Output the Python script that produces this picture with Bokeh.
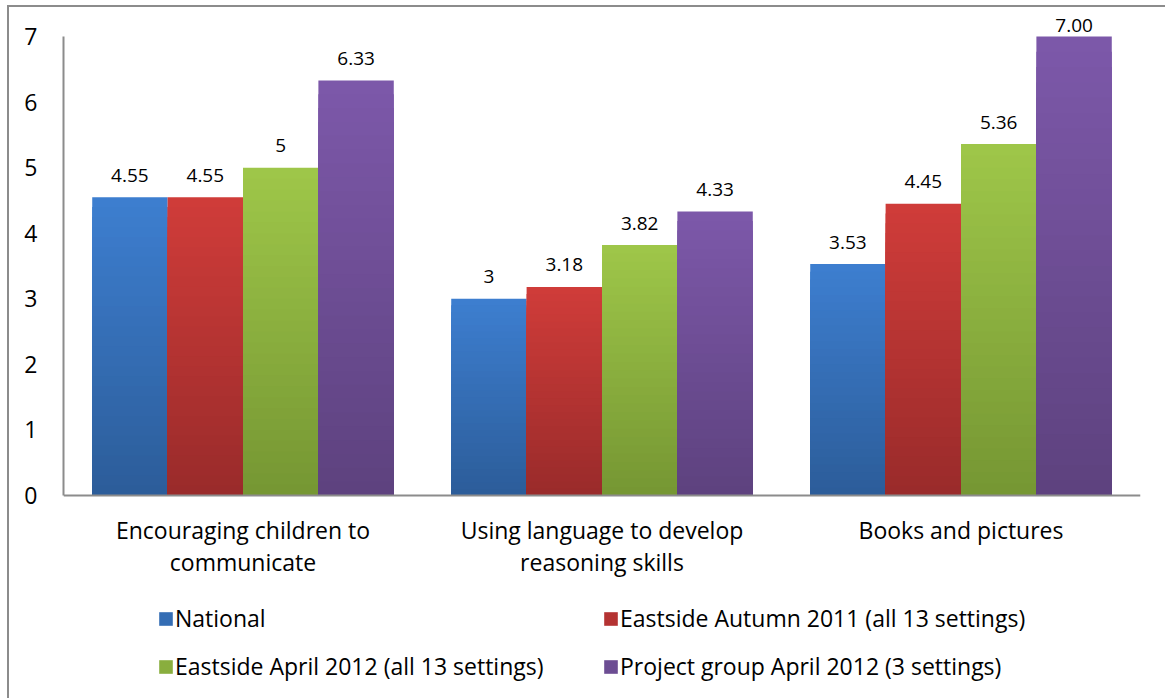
from bokeh.plotting import figure
from bokeh.models import ColumnDataSource, FactorRange, Range1d, Legend, LegendItem, Span
from bokeh.transform import dodge
from bokeh.core.properties import value
from bokeh.embed import file_html
from bokeh.resources import INLINE

# ---- data ----
categories = ["Encouraging children to\ncommunicate",
              "Using language to develop\nreasoning skills",
              "Books and pictures"]
series_names = ["National",
                "Eastside Autumn 2011 (all 13 settings)",
                "Eastside April 2012 (all 13 settings)",
                "Project group April 2012 (3 settings)"]
national = [4.55, 3.00, 3.53]
eastside_autumn_2011 = [4.55, 3.18, 4.45]
eastside_april_2012 = [5.00, 3.82, 5.36]
project_group_april_2012 = [6.33, 4.33, 7.00]
national_labels = ["4.55", "3", "3.53"]
eastside_autumn_2011_labels = ["4.55", "3.18", "4.45"]
eastside_april_2012_labels = ["5", "3.82", "5.36"]
project_group_april_2012_labels = ["6.33", "4.33", "7.00"]
y_ticks = [0, 1, 2, 3, 4, 5, 6, 7]
y_max = 7

values_all = [national, eastside_autumn_2011, eastside_april_2012, project_group_april_2012]
labels_all = [national_labels, eastside_autumn_2011_labels, eastside_april_2012_labels,
              project_group_april_2012_labels]

# ---- styles ----
top_colors = [(0x3D, 0x7E, 0xCF), (0xCF, 0x3C, 0x39), (0x9E, 0xC6, 0x49), (0x7C, 0x58, 0xA9)]
bot_colors = [(0x2C, 0x5D, 0x9A), (0x9A, 0x2B, 0x2B), (0x76, 0x97, 0x33), (0x5E, 0x42, 0x7F)]
offsets = [-0.315, -0.105, 0.105, 0.315]
bar_w = 0.21
FONT = "Open Sans"
N = 30
AXIS_COLOR = "#8c8c8c"

# pixel geometry (canvas starts at page (9, 7) because of the CSS margin + border)
PX_PER_UNIT = 459.0 / 7.0
BASE_PAGE_Y = 495.0
CANVAS_TOP = 7.0
CANVAS_H = 693
y_end = (BASE_PAGE_Y - CANVAS_TOP) / PX_PER_UNIT
y_start = -(CANVAS_TOP + CANVAS_H - BASE_PAGE_Y) / PX_PER_UNIT


def mix(a, b, t):
    return "#%02x%02x%02x" % tuple(int(round(a[i] + (b[i] - a[i]) * t)) for i in range(3))


p = figure(x_range=FactorRange(*categories), y_range=Range1d(y_start, y_end),
           width=1158, height=CANVAS_H, output_backend="svg", toolbar_location=None,
           x_axis_location=None,
           min_border_left=54, min_border_right=27, min_border_top=0, min_border_bottom=0)
p.styles = {"margin-left": "7px", "margin-top": "5px",
            "border-left": "2px solid #8c8c8c", "border-top": "2px solid #8c8c8c"}
p.background_fill_color = "white"
p.border_fill_color = "white"
p.outline_line_color = None
p.xgrid.visible = False
p.ygrid.visible = False

p.yaxis.bounds = (0, y_max)
p.yaxis.ticker = y_ticks
p.yaxis.major_tick_out = 0
p.yaxis.major_tick_in = 0
p.yaxis.minor_tick_out = 0
p.yaxis.minor_tick_in = 0
p.yaxis.axis_line_color = AXIS_COLOR
p.yaxis.axis_line_width = 2
p.yaxis.major_label_standoff = 26
p.yaxis.major_label_text_font = FONT
p.yaxis.major_label_text_font_size = "23px"
p.yaxis.major_label_text_color = "#000000"

# x axis baseline
p.add_layout(Span(location=0, dimension="width", line_color=AXIS_COLOR, line_width=2))

legend_renderers = []
for s in range(4):
    vals = values_all[s]
    src = {"cat": categories}
    for k in range(N):
        src["t%d" % k] = [v * (1 - k / N) for v in vals]
    source = ColumnDataSource(src)
    mid = None
    for k in range(N):
        r = p.vbar(x=dodge("cat", offsets[s], range=p.x_range), top="t%d" % k, bottom=0,
                   width=bar_w, source=source, line_color=None,
                   fill_color=mix(top_colors[s], bot_colors[s], k / (N - 1)))
        if k == N // 2:
            mid = r
    legend_renderers.append(mid)
    label_y = [min(v + 22 / PX_PER_UNIT, y_max + 11 / PX_PER_UNIT) for v in vals]
    lsrc = ColumnDataSource({"cat": categories, "ly": label_y, "lbl": labels_all[s]})
    p.text(x=dodge("cat", offsets[s], range=p.x_range), y="ly", text="lbl", source=lsrc,
           text_align="center", text_baseline="middle",
           text_font=value(FONT), text_font_size="19px", text_color="#000000")

# category labels under the baseline
csrc = ColumnDataSource({"cat": categories, "cy": [-18 / PX_PER_UNIT] * len(categories)})
p.text(x="cat", y="cy", text="cat", source=csrc, text_align="center", text_baseline="top",
       text_line_height=1.0, text_font=value(FONT), text_font_size="23px",
       text_color="#000000")

legend = Legend(items=[LegendItem(label=series_names[s], renderers=[legend_renderers[s]])
                       for s in range(4)],
                location=(94, 18), orientation="horizontal", ncols=2,
                border_line_color=None, background_fill_alpha=0,
                padding=0, margin=0, spacing=16,
                glyph_width=17, glyph_height=17, label_standoff=1,
                label_width=411, label_height=31,
                label_text_font=FONT, label_text_font_size="23px", label_text_color="#000000",
                label_text_baseline="middle")
p.add_layout(legend)

open("out.html", "w").write(file_html(p, INLINE))
